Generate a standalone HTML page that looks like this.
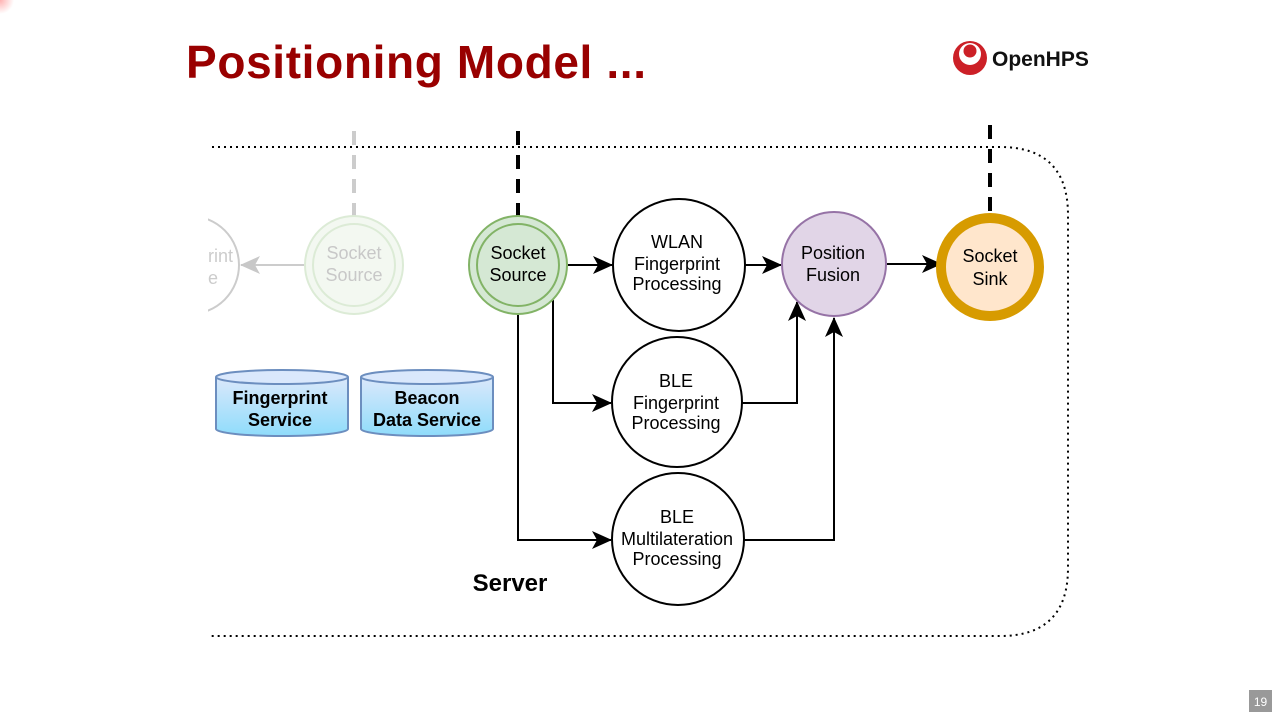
<!DOCTYPE html>
<html><head><meta charset="utf-8"><style>
html,body{margin:0;padding:0;background:#fff;}
body{width:1280px;height:720px;overflow:hidden;position:relative;font-family:"Liberation Sans",sans-serif;}
</style></head><body>
<svg width="1280" height="720" viewBox="0 0 1280 720" xmlns="http://www.w3.org/2000/svg" style="position:absolute;left:0;top:0">
<defs>
<marker id="a" viewBox="0 0 20 20" refX="19" refY="10" markerWidth="20" markerHeight="20" markerUnits="userSpaceOnUse" orient="auto">
<path d="M0,1 L20,10 L0,19 L5,10 Z" fill="#000"/></marker>
<marker id="g" viewBox="0 0 20 20" refX="19" refY="10" markerWidth="20" markerHeight="20" markerUnits="userSpaceOnUse" orient="auto">
<path d="M0,1 L20,10 L0,19 L5,10 Z" fill="#c8c8c8"/></marker>
<linearGradient id="cy" x1="0" y1="0" x2="0" y2="1"><stop offset="0" stop-color="#dbe8fb"/><stop offset="1" stop-color="#8fdcfb"/></linearGradient>
<radialGradient id="rd"><stop offset="0" stop-color="#ffb0b0"/><stop offset="1" stop-color="#fff"/></radialGradient>
<clipPath id="cl"><rect x="208" y="0" width="1100" height="720"/></clipPath>
</defs>
<circle cx="0" cy="0" r="14" fill="url(#rd)"/>
<text x="186" y="78" font-family="Liberation Sans" font-weight="bold" font-size="46" fill="#990000" textLength="460">Positioning Model ...</text>
<!-- logo -->
<circle cx="970" cy="58" r="17" fill="#cc2027"/>
<circle cx="970" cy="54" r="11" fill="#fff"/>
<circle cx="970" cy="51" r="6.5" fill="#cc2027"/>
<text x="992" y="66" font-weight="bold" font-size="21" fill="#111">OpenHPS</text>
<!-- dotted container -->
<path d="M212,147 H1000 Q1068,147 1068,215 V568 Q1068,636 1000,636 H208" fill="none" stroke="#000" stroke-width="2" stroke-dasharray="2,4"/>
<!-- dashed lines -->
<line x1="354" y1="131" x2="354" y2="216" stroke="#ccc" stroke-width="4" stroke-dasharray="14,10"/>
<line x1="518" y1="131" x2="518" y2="216" stroke="#000" stroke-width="4" stroke-dasharray="14,10"/>
<line x1="990" y1="125" x2="990" y2="216" stroke="#000" stroke-width="4" stroke-dasharray="14,10"/>
<!-- faded left -->
<g clip-path="url(#cl)">
<circle cx="190" cy="265" r="49" fill="#fff" stroke="#ccc" stroke-width="2"/>
<text x="208" y="262" font-size="18" fill="#ccc">rint</text>
<text x="208" y="284" font-size="18" fill="#ccc">e</text>
</g>
<line x1="305" y1="265" x2="241" y2="265" stroke="#ccc" stroke-width="2" marker-end="url(#g)"/>
<circle cx="354" cy="265" r="49" fill="#f3f8f1" stroke="#dcebd6" stroke-width="2"/>
<circle cx="354" cy="265" r="41" fill="none" stroke="#dcebd6" stroke-width="2"/>
<text x="354" y="259" font-size="18" fill="#c8c8c8" text-anchor="middle">Socket</text>
<text x="354" y="281" font-size="18" fill="#c8c8c8" text-anchor="middle">Source</text>
<!-- cylinders -->
<g stroke="#6c8ebf" stroke-width="2">
<path d="M216,377 V429 A66,7 0 0 0 348,429 V377" fill="url(#cy)"/>
<ellipse cx="282" cy="377" rx="66" ry="7" fill="#dae8fc"/>
<path d="M361,377 V429 A66,7 0 0 0 493,429 V377" fill="url(#cy)"/>
<ellipse cx="427" cy="377" rx="66" ry="7" fill="#dae8fc"/>
</g>
<g font-weight="bold" font-size="18" text-anchor="middle" fill="#000">
<text x="280" y="404">Fingerprint</text><text x="280" y="426">Service</text>
<text x="427" y="404">Beacon</text><text x="427" y="426">Data Service</text>
<text x="510" y="591" font-size="24">Server</text>
</g>
<!-- connectors -->
<g stroke="#000" stroke-width="2" fill="none">
<line x1="568" y1="265" x2="612" y2="265" marker-end="url(#a)"/>
<path d="M553,300 V403 H611" marker-end="url(#a)"/>
<path d="M518,315 V540 H611" marker-end="url(#a)"/>
<line x1="745" y1="265" x2="781" y2="265" marker-end="url(#a)"/>
<path d="M741,403 H797 V302" marker-end="url(#a)"/>
<path d="M744,540 H834 V318" marker-end="url(#a)"/>
<line x1="887" y1="264" x2="941" y2="264" marker-end="url(#a)"/>
</g>
<!-- nodes -->
<circle cx="518" cy="265" r="49" fill="#d5e8d4" stroke="#82b366" stroke-width="2"/>
<circle cx="518" cy="265" r="41" fill="none" stroke="#82b366" stroke-width="2"/>
<circle cx="679" cy="265" r="66" fill="#fff" stroke="#000" stroke-width="2"/>
<circle cx="677" cy="402" r="65" fill="#fff" stroke="#000" stroke-width="2"/>
<circle cx="678" cy="539" r="66" fill="#fff" stroke="#000" stroke-width="2"/>
<circle cx="834" cy="264" r="52" fill="#e1d5e7" stroke="#9673a6" stroke-width="2"/>
<circle cx="990" cy="267" r="49" fill="#ffe6cc" stroke="#d79b00" stroke-width="10"/>
<g font-size="18" text-anchor="middle" fill="#000">
<text x="518" y="259">Socket</text><text x="518" y="281">Source</text>
<text x="677" y="248">WLAN</text><text x="677" y="270">Fingerprint</text><text x="677" y="290">Processing</text>
<text x="676" y="387">BLE</text><text x="676" y="409">Fingerprint</text><text x="676" y="429">Processing</text>
<text x="677" y="523">BLE</text><text x="677" y="545">Multilateration</text><text x="677" y="565">Processing</text>
<text x="833" y="259">Position</text><text x="833" y="281">Fusion</text>
<text x="990" y="262">Socket</text><text x="990" y="285">Sink</text>
</g>
<rect x="1249" y="690" width="23" height="22" fill="#999"/>
<text x="1260.5" y="706" font-size="12" fill="#fff" text-anchor="middle">19</text>
</svg>
</body></html>
